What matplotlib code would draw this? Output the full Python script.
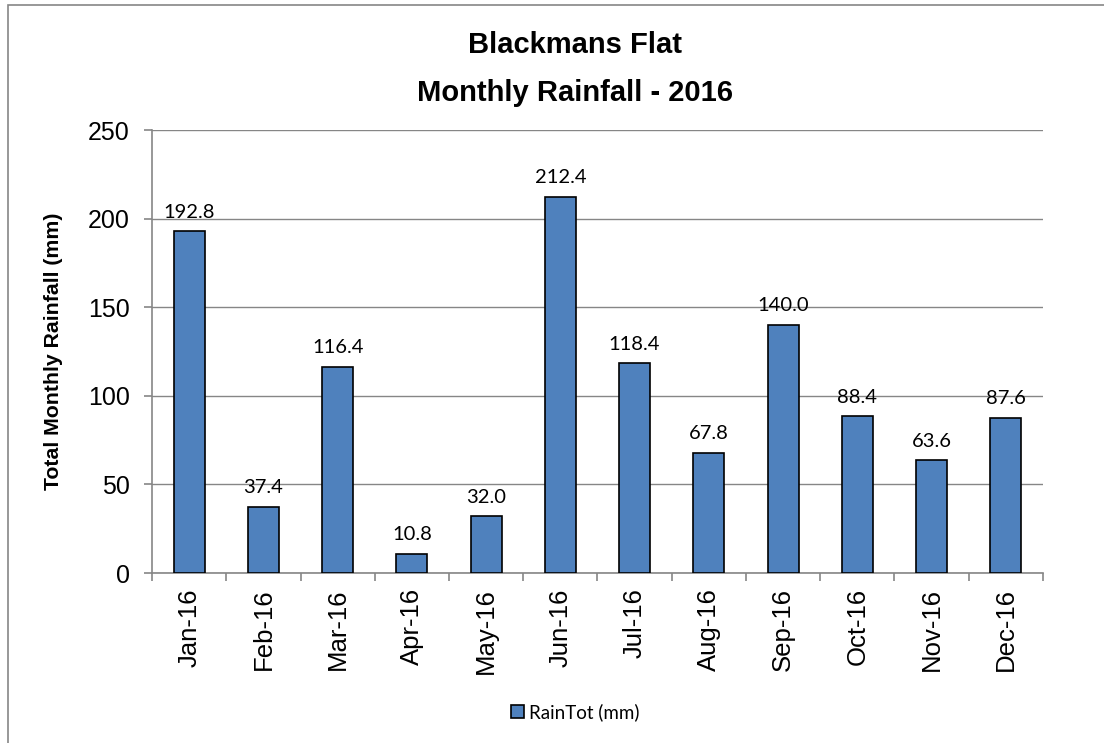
import matplotlib.pyplot as plt
from matplotlib.patches import Rectangle

# Monthly rainfall, Blackmans Flat 2016
meses = ['Jan-16', 'Feb-16', 'Mar-16', 'Apr-16', 'May-16', 'Jun-16',
         'Jul-16', 'Aug-16', 'Sep-16', 'Oct-16', 'Nov-16', 'Dec-16']
chuva = [192.8, 37.4, 116.4, 10.8, 32.0, 212.4, 118.4, 67.8, 140.0, 88.4, 63.6, 87.6]
yticks = [0, 50, 100, 150, 200, 250]

plt.rcParams['font.family'] = ['Liberation Sans', 'DejaVu Sans']

fig = plt.figure(figsize=(11.04, 7.43), dpi=100)
ax = fig.add_axes([0.1377, 0.2288, 0.8070, 0.5962])

# moldura externa do grafico
fig.patches.append(Rectangle((8 / 1104, -0.1), 1.2, 0.1 + (743 - 5) / 743,
                             transform=fig.transFigure, fill=False,
                             edgecolor='#868686', linewidth=1.2))

x = list(range(len(meses)))
barras = ax.bar(x, chuva, width=0.42, color='#4F81BD', edgecolor='black',
                linewidth=1.2, label='RainTot (mm)', zorder=3)

for xi, v in zip(x, chuva):
    ax.text(xi, v + 6, f'{v:.1f}', ha='center', va='bottom',
            fontsize=14.5, family=['Lato', 'DejaVu Sans'])

ax.set_xlim(-0.5, len(meses) - 0.5)
ax.set_ylim(0, 250)
ax.set_yticks(yticks)
ax.set_yticklabels([str(t) for t in yticks], fontsize=18)
ax.set_xticks(x)
ax.set_xticklabels(meses, rotation=90, fontsize=18.5)
ax.set_xticks([i - 0.5 for i in range(len(meses) + 1)], minor=True)
ax.tick_params(axis='x', which='major', length=0, pad=11)
ax.tick_params(axis='x', which='minor', length=6, color='#868686', width=1.2)
ax.tick_params(axis='y', length=6, color='#868686', width=1.2, pad=10)

ax.grid(axis='y', color='#868686', linewidth=1.0, zorder=0)
for lado in ['top', 'right']:
    ax.spines[lado].set_visible(False)
for lado in ['left', 'bottom']:
    ax.spines[lado].set_color('#868686')
    ax.spines[lado].set_linewidth(1.2)

ax.set_ylabel('Total Monthly Rainfall (mm)', fontsize=15.3, fontweight='bold', labelpad=18)

fig.text(0.521, 0.94, 'Blackmans Flat', ha='center', va='center',
         fontsize=21, fontweight='bold')
fig.text(0.521, 0.875, 'Monthly Rainfall - 2016', ha='center', va='center',
         fontsize=21, fontweight='bold')

fig.legend(handles=[barras], labels=['RainTot (mm)'], loc='center',
           bbox_to_anchor=(0.521, 0.042), frameon=False,
           prop={'family': ['Lato', 'DejaVu Sans'], 'size': 13.5},
           handlelength=0.7, handleheight=0.7, handletextpad=0.3)

fig.savefig('out.png', dpi=100)
plt.close('all')
